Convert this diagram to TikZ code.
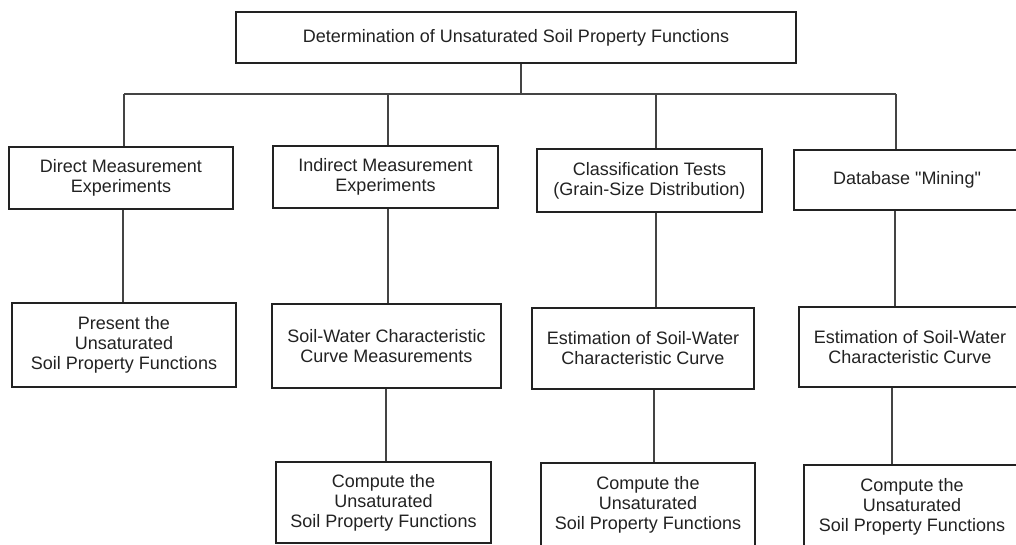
\documentclass[tikz,border=0pt]{standalone}
\usepackage{fontspec}
\setmainfont{Liberation Sans}[Ligatures=TeXOff]
\definecolor{ink}{HTML}{222222}
\definecolor{wire}{HTML}{444444}
\begin{document}
\begin{tikzpicture}[x=1pt,y=-1pt,
  box/.style={draw=ink,line width=2.4pt,text=ink,align=center,inner sep=0pt,
    font=\fontsize{18}{20}\selectfont},
  conn/.style={draw=wire,line width=1.3pt}]
\useasboundingbox (0,0) rectangle (1016,545);
\clip (0,0) rectangle (1016,545);
\fill[white] (0,0) rectangle (1016,545);
% boxes
\node[box,minimum width=560,minimum height=51] (top) at (516,37.5) {Determination of Unsaturated Soil Property Functions};
\node[box,minimum width=224,minimum height=62] (b1) at (121,178) {Direct Measurement\\Experiments};
\node[box,minimum width=225,minimum height=62] (b2) at (385.5,177) {Indirect Measurement\\Experiments};
\node[box,minimum width=225,minimum height=63] (b3) at (649.5,180.5) {Classification Tests\\(Grain-Size Distribution)};
\node[box,minimum width=226,minimum height=60] (b4) at (907,180) {Database "Mining"};
\node[box,minimum width=224,minimum height=84] (b5) at (124,345) {Present the\\Unsaturated\\Soil Property Functions};
\node[box,minimum width=229,minimum height=84] (b6) at (386.5,346) {Soil-Water Characteristic\\Curve Measurements};
\node[box,minimum width=222,minimum height=81] (b7) at (643,348.5) {Estimation of Soil-Water\\Characteristic Curve};
\node[box,minimum width=222,minimum height=80] (b8) at (910,347) {Estimation of Soil-Water\\Characteristic Curve};
\node[box,minimum width=215,minimum height=81] (b9) at (383.5,502.5) {Compute the\\Unsaturated\\Soil Property Functions};
\node[box,minimum width=214,minimum height=83] (b10) at (648,504.5) {Compute the\\Unsaturated\\Soil Property Functions};
\node[box,minimum width=216,minimum height=83] (b11) at (912,506.5) {Compute the\\Unsaturated\\Soil Property Functions};
% bus
\coordinate (bus) at (521,94);
\coordinate (d1) at (124,94);
\coordinate (d2) at (388,94);
\coordinate (d3) at (656,94);
\coordinate (d4) at (896,94);
\draw[conn] (bus |- top.south) -- (bus);
\draw[conn] (d1) -- (d4);
\draw[conn] (d1) -- (d1 |- b1.north);
\draw[conn] (d2) -- (d2 |- b2.north);
\draw[conn] (d3) -- (d3 |- b3.north);
\draw[conn] (d4) -- (d4 |- b4.north);
% second level
\coordinate (e1) at (123,0);
\coordinate (e2) at (388,0);
\coordinate (e3) at (656,0);
\coordinate (e4) at (895,0);
\draw[conn] (e1 |- b1.south) -- (e1 |- b5.north);
\draw[conn] (e2 |- b2.south) -- (e2 |- b6.north);
\draw[conn] (e3 |- b3.south) -- (e3 |- b7.north);
\draw[conn] (e4 |- b4.south) -- (e4 |- b8.north);
% third level
\coordinate (f2) at (386,0);
\coordinate (f3) at (654,0);
\coordinate (f4) at (892,0);
\draw[conn] (f2 |- b6.south) -- (f2 |- b9.north);
\draw[conn] (f3 |- b7.south) -- (f3 |- b10.north);
\draw[conn] (f4 |- b8.south) -- (f4 |- b11.north);
\end{tikzpicture}
\end{document}
